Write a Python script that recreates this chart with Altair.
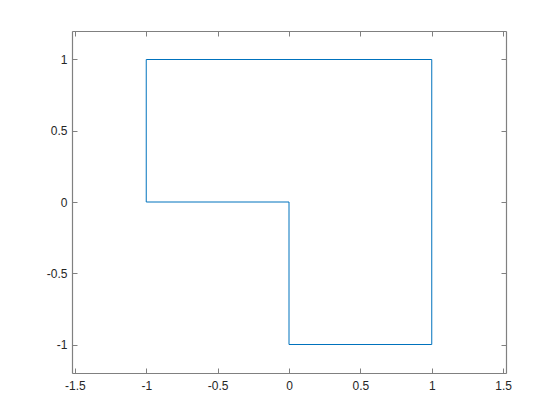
import altair as alt
import pandas as pd

# Polygon vertices (closed path)
xs = [-1, 1, 1, 0, 0, -1, -1]
ys = [1, 1, -1, -1, 0, 0, 1]
order = list(range(len(xs)))

x_ticks = [-1.5, -1, -0.5, 0, 0.5, 1, 1.5]
y_ticks = [-1, -0.5, 0, 0.5, 1]
x_domain = [-1.52, 1.52]
y_domain = [-1.2, 1.2]

df = pd.DataFrame({"x": xs, "y": ys, "i": order})

AX = "#808080"
LBL = "#262626"
FONT = "Liberation Sans"

xscale = alt.Scale(domain=x_domain, nice=False, zero=False)
yscale = alt.Scale(domain=y_domain, nice=False, zero=False)


def tick_axis(orient, labels, values):
    kw = dict(
        orient=orient, values=values, grid=False, domain=False, title=None,
        tickSize=5, offset=-5, tickColor=AX, tickWidth=1,
        labels=labels,
    )
    if labels:
        kw.update(labelFont=FONT, labelFontSize=12, labelColor=LBL,
                  format="~g",
                  labelPadding=7 if orient == "bottom" else 5,
                  labelExpr="replace(datum.label, '−', '-')")
    return alt.Axis(**kw)


def domain_axis(orient):
    return alt.Axis(orient=orient, grid=False, domain=True, domainColor=AX,
                    domainWidth=1.2, ticks=False, labels=False, title=None,
                    offset=0)


main = alt.Chart(df).mark_line(color="#0072BD", strokeWidth=1).encode(
    x=alt.X("x:Q", scale=xscale, axis=tick_axis("bottom", True, x_ticks)),
    y=alt.Y("y:Q", scale=yscale, axis=tick_axis("left", True, y_ticks)),
    order="i:Q",
)

ticks2 = alt.Chart(df).mark_line(opacity=0).encode(
    x=alt.X("x:Q", scale=xscale, axis=tick_axis("top", False, x_ticks)),
    y=alt.Y("y:Q", scale=yscale, axis=tick_axis("right", False, y_ticks)),
    order="i:Q",
)

frame1 = alt.Chart(df).mark_line(opacity=0).encode(
    x=alt.X("x:Q", scale=xscale, axis=domain_axis("bottom")),
    y=alt.Y("y:Q", scale=yscale, axis=domain_axis("left")),
    order="i:Q",
)

frame2 = alt.Chart(df).mark_line(opacity=0).encode(
    x=alt.X("x:Q", scale=xscale, axis=domain_axis("top")),
    y=alt.Y("y:Q", scale=yscale, axis=domain_axis("right")),
    order="i:Q",
)

chart = alt.layer(main, ticks2, frame1, frame2).resolve_axis(
    x="independent", y="independent"
).properties(
    width=434, height=342,
    autosize=alt.AutoSizeParams(type="none"),
    padding={"left": 64, "top": 23, "right": 40, "bottom": 40},
).configure_view(stroke=None).configure(background="white")

chart.save("out.html", embed_options={"renderer": "svg", "actions": False})
